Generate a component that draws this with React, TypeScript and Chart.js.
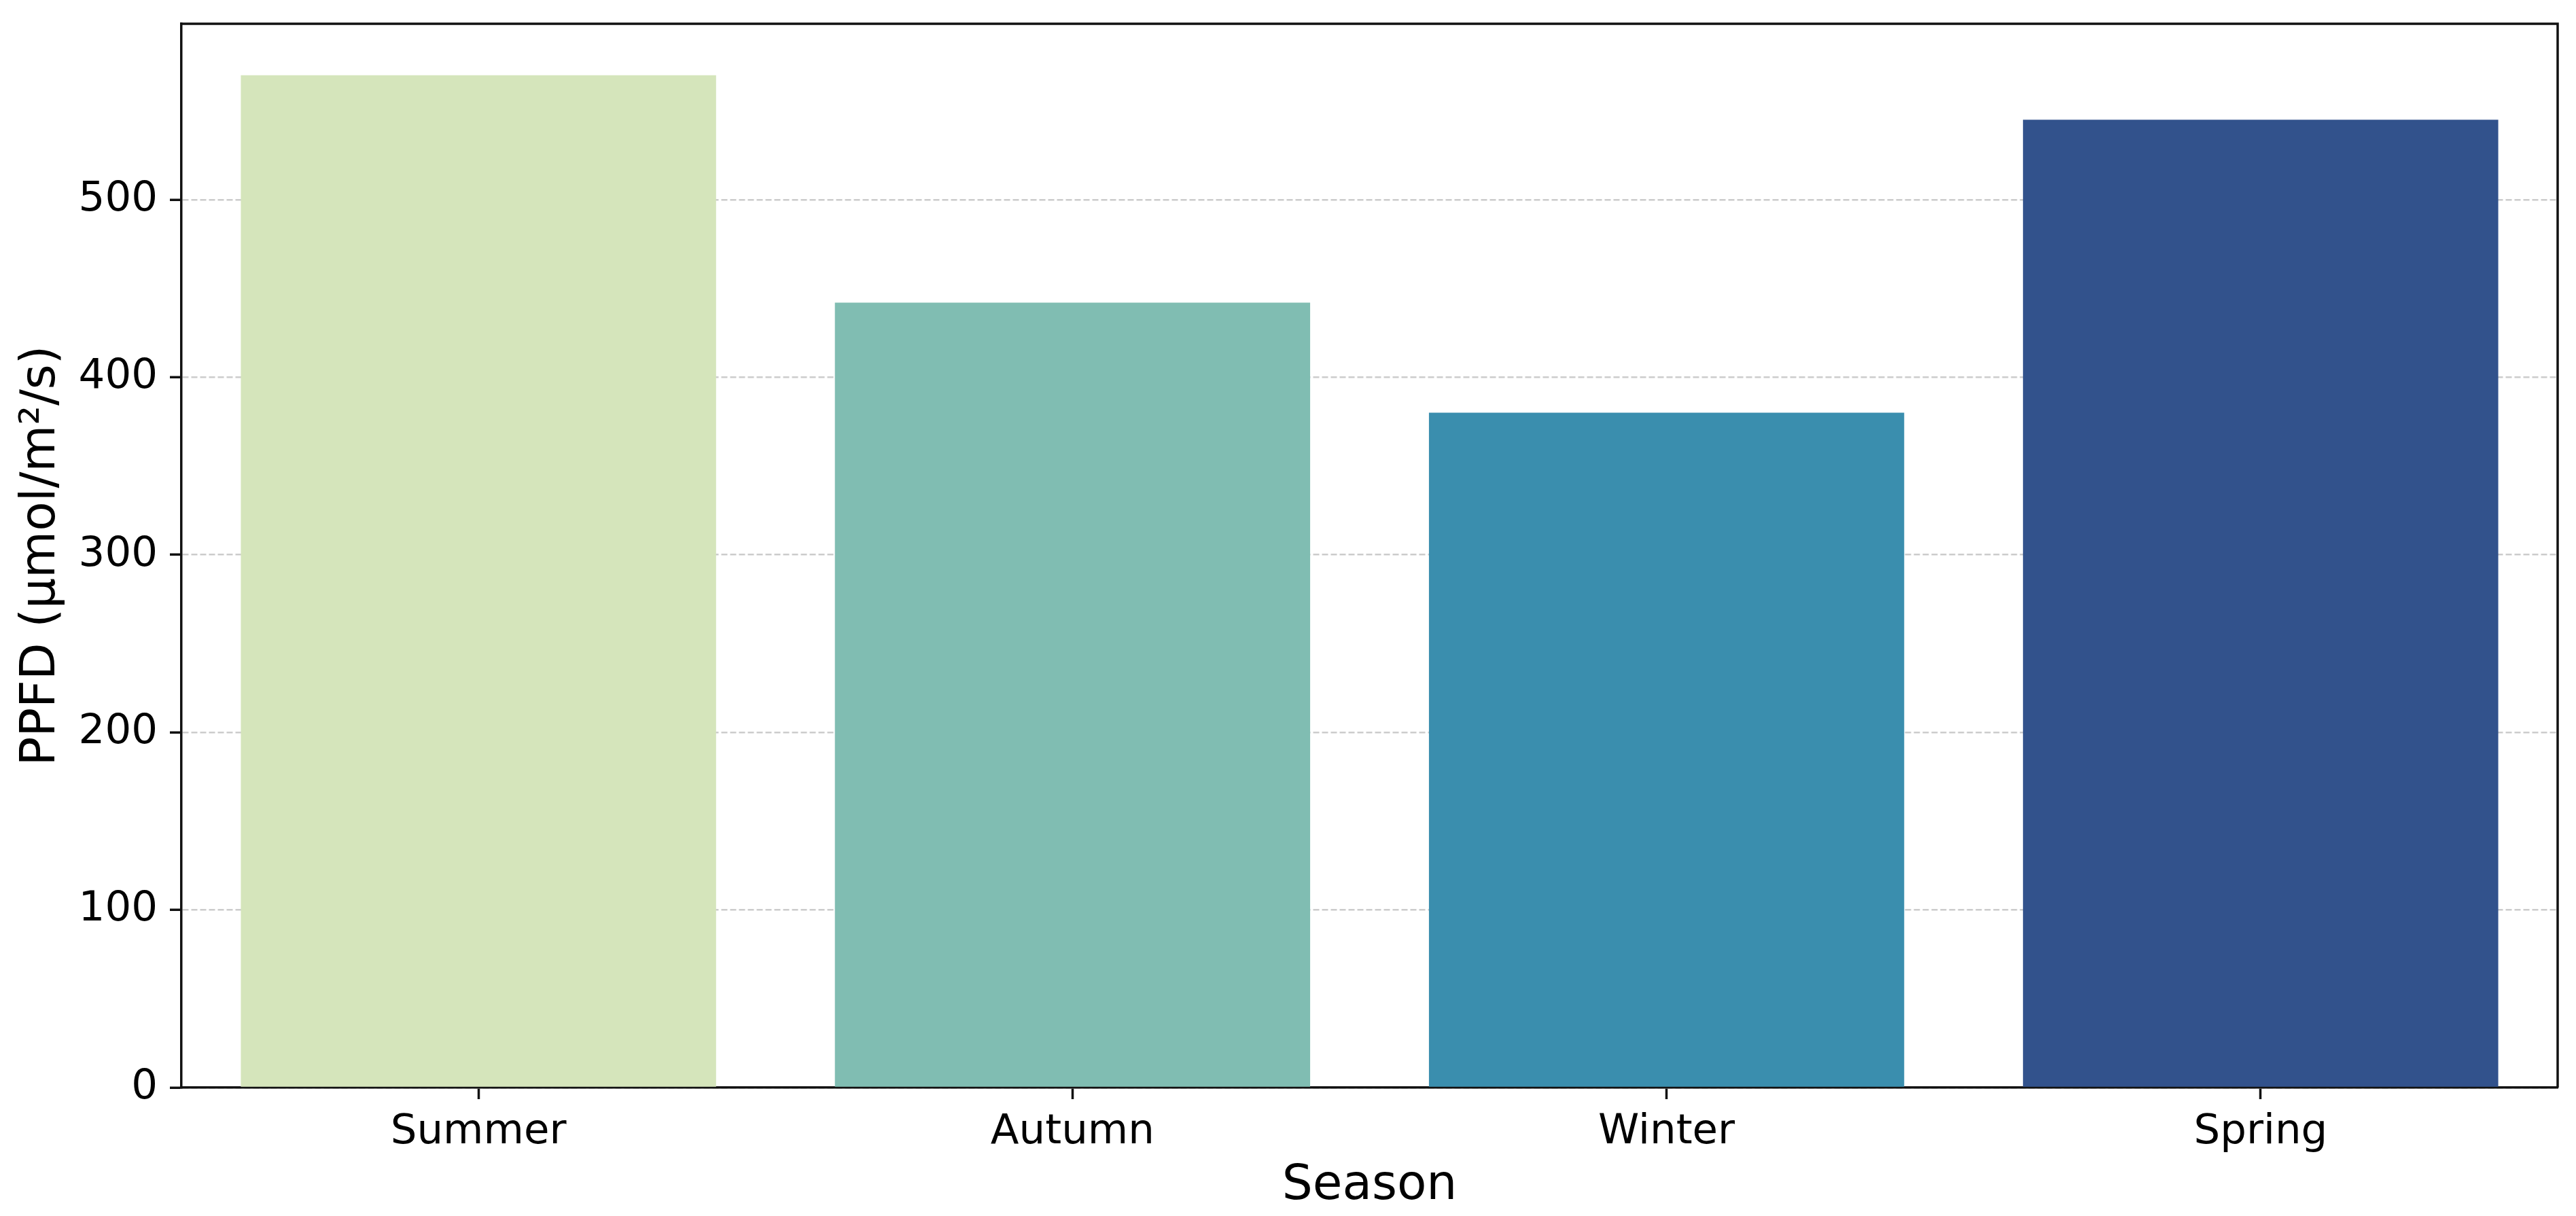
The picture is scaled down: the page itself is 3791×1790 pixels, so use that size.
import React, { useEffect, useRef } from 'react';
import { Chart, registerables } from 'chart.js';

Chart.register(...registerables);

const seasons = ['Summer', 'Autumn', 'Winter', 'Spring'];
const ppfdValues = [570, 442, 380, 545];
const barColors = ['#d5e5bb', '#80bdb2', '#3a8eae', '#32528c'];
const yTickValues = [0, 100, 200, 300, 400, 500];
const yMax = 599;
const xAxisTitle = 'Season';
const yAxisTitle = 'PPFD (μmol/m²/s)';

const W = 3791;
const H = 1790;
const FONT = "'DejaVu Sans', sans-serif";

const framePlugin = {
  id: 'frameBox',
  afterDraw(chart: any) {
    const { ctx, chartArea: a } = chart;
    ctx.save();
    ctx.strokeStyle = '#111';
    ctx.lineWidth = 3.5;
    ctx.beginPath();
    ctx.moveTo(a.left, a.top);
    ctx.lineTo(a.right, a.top);
    ctx.lineTo(a.right, a.bottom);
    ctx.stroke();
    ctx.restore();
  },
};

export default function App() {
  const ref = useRef<HTMLCanvasElement | null>(null);

  useEffect(() => {
    document.body.style.margin = '0';
    const canvas = ref.current;
    if (!canvas) return;
    const chart = new Chart(canvas, {
      type: 'bar',
      data: {
        labels: seasons,
        datasets: [
          {
            data: ppfdValues,
            backgroundColor: barColors,
            borderWidth: 0,
            barPercentage: 0.8,
            categoryPercentage: 1.0,
          },
        ],
      },
      plugins: [framePlugin],
      options: {
        responsive: false,
        animation: false,
        devicePixelRatio: 1,
        layout: { padding: { left: 0, right: 27, top: 35, bottom: 0 } },
        plugins: {
          legend: { display: false },
          tooltip: { enabled: false },
          title: { display: false },
        },
        scales: {
          x: {
            type: 'category',
            offset: true,
            z: 1,
            grid: {
              display: true,
              drawOnChartArea: false,
              drawTicks: true,
              tickLength: 17,
              tickWidth: 3.5,
              tickColor: '#111',
              offset: false,
            },
            border: { display: true, color: '#111', width: 3.5 },
            ticks: {
              color: '#000',
              padding: 13,
              font: { family: FONT, size: 61 },
              maxRotation: 0,
              autoSkip: false,
            },
            title: {
              display: true,
              text: xAxisTitle,
              color: '#000',
              font: { family: FONT, size: 71 },
              padding: { top: 0, bottom: 1 },
            },
            afterFit: (scale: any) => {
              scale.height = 189;
              scale.paddingLeft = 0;
              scale.paddingRight = 0;
            },
          },
          y: {
            type: 'linear',
            min: 0,
            max: yMax,
            z: 1,
            afterBuildTicks: (scale: any) => {
              scale.ticks = yTickValues.map((v) => ({ value: v }));
            },
            grid: {
              display: true,
              drawOnChartArea: true,
              drawTicks: true,
              tickLength: 17,
              tickWidth: 3.5,
              tickColor: '#111',
              color: 'rgba(176,176,176,0.65)',
              lineWidth: 2.5,
            },
            border: { display: true, color: '#111', width: 3.5, dash: [9, 4] },
            ticks: {
              color: '#000',
              padding: 18,
              font: { family: FONT, size: 61 },
              includeBounds: false,
            },
            title: {
              display: true,
              text: yAxisTitle,
              color: '#000',
              font: { family: FONT, size: 71 },
              padding: { top: 19, bottom: 0 },
            },
            afterFit: (scale: any) => {
              scale.width = 267;
              scale.paddingTop = 0;
              scale.paddingBottom = 0;
            },
          },
        },
      } as any,
    });
    return () => chart.destroy();
  }, []);

  return (
    <div style={{ position: 'absolute', left: 0, top: 0, width: W, height: H, background: '#fff' }}>
      <canvas ref={ref} width={W} height={H} style={{ display: 'block' }} />
    </div>
  );
}
